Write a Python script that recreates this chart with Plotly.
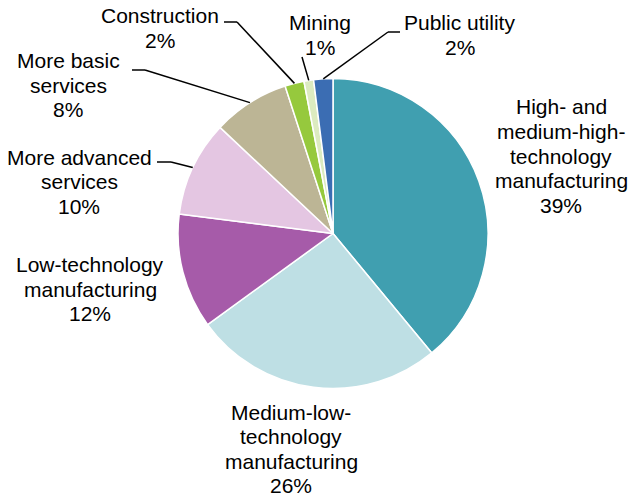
import math
import plotly.graph_objects as go

# Shares of total, clockwise from 12 o'clock
labels = [
    "High- and\nmedium-high-\ntechnology\nmanufacturing",
    "Medium-low-\ntechnology\nmanufacturing",
    "Low-technology\nmanufacturing",
    "More advanced\nservices",
    "More basic\nservices",
    "Construction",
    "Mining",
    "Public utility",
]
values = [39, 26, 12, 10, 8, 2, 1, 2]
colors = ["#409FB0", "#BEDFE4", "#A65BA9", "#E4C6E2", "#BCB595", "#96C93D", "#DCEBC0", "#3B6DB3"]

# Label block centres (pixels) and optional leader-line waypoints (pixels)
label_pos = [(561, 156), (291, 449), (90, 289), (79, 182), (68, 85), (160, 28), (320, 35), (460, 35)]
leaders = {
    3: [(157, 162), (171, 162)],
    4: [(132, 70), (145, 70)],
    5: [(224, 22), (237, 22)],
    6: [(302, 57)],
    7: [(400, 32), (388, 32)],
}

W, H = 628, 495
CX, CY, R = 333, 233.5, 155
FONT_SIZE = 21
LINE_GAP = 24.6


def to_paper(x, y):
    return x / W, 1 - y / H


fig = go.Figure(
    go.Pie(
        labels=[l.replace("\n", " ") for l in labels],
        values=values,
        sort=False,
        direction="clockwise",
        rotation=0,
        marker=dict(colors=colors, line=dict(color="white", width=1.5)),
        textinfo="none",
        hoverinfo="label+percent",
        domain=dict(x=[(CX - R) / W, (CX + R) / W], y=[1 - (CY + R) / H, 1 - (CY - R) / H]),
        showlegend=False,
    )
)

total = sum(values)
annotations = []
shapes = []
cum = 0
for i, (lab, v) in enumerate(zip(labels, values)):
    mid = (cum + v / 2) / total * 2 * math.pi
    cum += v
    pct = round(v / total * 100)
    lines = lab.split("\n") + [f"{pct}%"]
    cx, cy = label_pos[i]
    n = len(lines)
    for k, line in enumerate(lines):
        lx, ly = to_paper(cx, cy + (k - (n - 1) / 2) * LINE_GAP)
        annotations.append(dict(
            x=lx, y=ly, xref="paper", yref="paper", text=line,
            showarrow=False, xanchor="center", yanchor="middle", align="center",
            font=dict(family="Liberation Sans, Arial, sans-serif", size=FONT_SIZE, color="black"),
        ))
    if i in leaders:
        edge = (CX + R * math.sin(mid), CY - R * math.cos(mid))
        pts = leaders[i] + [edge]
        for (x0, y0), (x1, y1) in zip(pts[:-1], pts[1:]):
            px0, py0 = to_paper(x0, y0)
            px1, py1 = to_paper(x1, y1)
            shapes.append(dict(type="line", xref="paper", yref="paper",
                               x0=px0, y0=py0, x1=px1, y1=py1,
                               line=dict(color="black", width=1.5)))

fig.update_layout(
    width=W, height=H,
    margin=dict(l=0, r=0, t=0, b=0),
    paper_bgcolor="white", plot_bgcolor="white",
    annotations=annotations, shapes=shapes,
)

fig.write_html("out.html")
